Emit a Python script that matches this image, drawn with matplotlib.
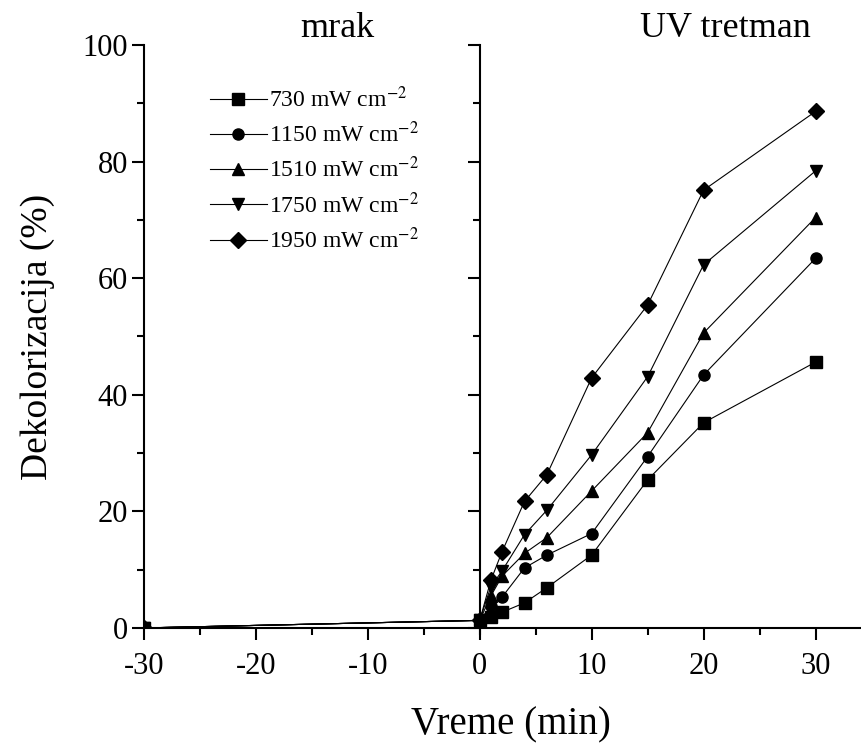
import numpy as np
import matplotlib
matplotlib.use("Agg")
import matplotlib.pyplot as plt
from matplotlib.ticker import MultipleLocator

plt.rcParams['font.family'] = ['Liberation Serif', 'DejaVu Serif']
plt.rcParams['mathtext.fontset'] = 'stix'
plt.rcParams['axes.unicode_minus'] = False

# dark phase (mrak)
t_dark = [-30, 0]
# UV phase (UV tretman)
t_uv = [0, 1, 2, 4, 6, 10, 15, 20, 30]

labels = ['730 mW cm$^{-2}$', '1150 mW cm$^{-2}$', '1510 mW cm$^{-2}$',
          '1750 mW cm$^{-2}$', '1950 mW cm$^{-2}$']
markers = ['s', 'o', '^', 'v', 'D']

dark_730 = [0, 1.3]
dark_1150 = [0, 1.3]
dark_1510 = [0, 1.3]
dark_1750 = [0, 1.3]
dark_1950 = [0, 1.3]

uv_730 = [1.3, 1.9, 2.7, 4.3, 6.9, 12.5, 25.4, 35.2, 45.6]
uv_1150 = [1.3, 3.7, 5.3, 10.3, 12.5, 16.2, 29.4, 43.4, 63.4]
uv_1510 = [1.3, 5.5, 8.9, 12.8, 15.5, 23.5, 33.5, 50.6, 70.4]
uv_1750 = [1.3, 7.1, 9.8, 16.0, 20.2, 29.7, 43.1, 62.3, 78.4]
uv_1950 = [1.3, 8.2, 13.1, 21.7, 26.3, 42.9, 55.4, 75.1, 88.6]

dark = [dark_730, dark_1150, dark_1510, dark_1750, dark_1950]
uv = [uv_730, uv_1150, uv_1510, uv_1750, uv_1950]

fig = plt.figure(figsize=(8.62, 7.44), dpi=100)
gs = fig.add_gridspec(1, 2, width_ratios=[30, 34], wspace=0,
                      left=0.167, right=0.998, bottom=0.156, top=0.9395)
ax1 = fig.add_subplot(gs[0])
ax2 = fig.add_subplot(gs[1], sharey=ax1)

for y, m in zip(dark, markers):
    ax1.plot(t_dark, y, color='black', lw=0.8, marker=m, ms=8)
for y, m, lab in zip(uv, markers, labels):
    ax2.plot(t_uv, y, color='black', lw=0.8, marker=m, ms=8, label=lab)

ax1.set_xlim(-30, 0)
ax2.set_xlim(0, 34)
ax1.set_ylim(0, 100)

for ax in (ax1, ax2):
    ax.spines['top'].set_visible(False)
    ax.spines['right'].set_visible(False)
    ax.spines['left'].set_linewidth(1.5)
    ax.spines['bottom'].set_linewidth(1.5)
    ax.yaxis.set_major_locator(MultipleLocator(20))
    ax.yaxis.set_minor_locator(MultipleLocator(10))
    ax.xaxis.set_minor_locator(MultipleLocator(5))
    ax.tick_params(which='major', direction='out', length=8.6, width=1.5, labelsize=22)
    ax.tick_params(which='minor', direction='out', length=5, width=1.5)
    ax.tick_params(axis='x', pad=9)
    ax.tick_params(axis='y', pad=3)

ax1.set_xticks([-30, -20, -10])
ax2.set_xticks([0, 10, 20, 30])
ax2.tick_params(axis='y', labelleft=False)

ax1.set_ylabel('Dekolorizacija (%)', fontsize=27, labelpad=20)
fig.text(0.593, 0.026, 'Vreme (min)', fontsize=28, ha='center', va='center')
fig.text(0.391, 0.962, 'mrak', fontsize=26, ha='center', va='center')
fig.text(0.842, 0.962, 'UV tretman', fontsize=26, ha='center', va='center')

ax2.legend(loc='upper left', bbox_to_anchor=(210 / 862, 1 - 87 / 744),
           bbox_transform=fig.transFigure, frameon=False,
           fontsize=17, handlelength=2.4, handletextpad=0.1, labelspacing=0.4,
           borderaxespad=0, borderpad=0)

fig.savefig('out.png', dpi=100)
